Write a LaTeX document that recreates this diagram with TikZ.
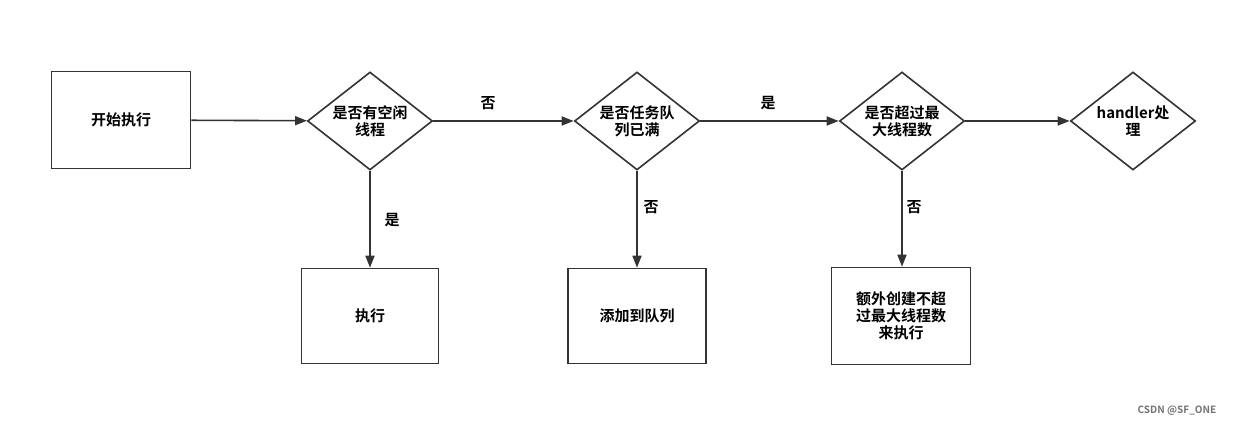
\documentclass[tikz,border=0pt]{standalone}
\usepackage{fontspec}
\setmainfont{Noto Sans CJK SC Bold}
\usetikzlibrary{shapes.geometric,arrows.meta}
\begin{document}
\begin{tikzpicture}[x=1pt,y=-1pt,
  box/.style={draw=black!80,line width=1.6pt,minimum width=139pt,minimum height=97pt,inner sep=0pt},
  dia/.style={draw=black!80,line width=1.6pt,diamond,minimum width=125pt,minimum height=98pt,inner sep=0pt},
  txt/.style={align=center,font=\fontsize{15}{17}\selectfont},
  lbl/.style={font=\fontsize{15}{17}\selectfont},
  arr/.style={draw=black!80,line width=1.6pt,-{Triangle[length=12pt,width=9pt]}}]
\useasboundingbox (0,0) rectangle (1235,427);
\node[box] (s) at (121,120) {};
\node[txt] at (s) {开始执行};
\node[dia] (d1) at (370,121) {};
\node[txt] at (d1) {是否有空闲\\线程};
\node[dia] (d2) at (637,121) {};
\node[txt] at (d2) {是否任务队\\列已满};
\node[dia] (d3) at (902,121) {};
\node[txt] at (d3) {是否超过最\\大线程数};
\node[dia] (d4) at (1133,121) {};
\node[txt] at (d4) {handler处\\理};
\node[box,minimum width=137pt,minimum height=95pt] (b1) at (370,316) {};
\node[txt] at (b1) {执行};
\node[box,minimum width=138pt,minimum height=95pt] (b2) at (637,316) {};
\node[txt] at (b2) {添加到队列};
\node[box,minimum height=97pt] (b3) at (901,316) {};
\node[txt] at (b3) {额外创建不超\\过最大线程数\\来执行};
\draw[arr] (s) -- (d1);
\draw[arr] (d1) -- (d2);
\draw[arr] (d2) -- (d3);
\draw[arr] (d3) -- (d4);
\draw[arr] (d1) -- (b1);
\draw[arr] (d2) -- (b2);
\draw[arr] (d3.south) -- (b3.north -| d3.south);
\node[lbl] (l1) at (488,103) {否};
\node[lbl] (l2) at (768,103) {是};
\node[lbl] (l3) at (392,220) {是};
\node[lbl] (l4) at (651,207) {否};
\node[lbl] (l5) at (914,207) {否};
\node[font=\fontsize{10}{12}\selectfont,text=black!55] (w) at (1177,411) {CSDN @SF\_ONE};
\end{tikzpicture}
\end{document}
